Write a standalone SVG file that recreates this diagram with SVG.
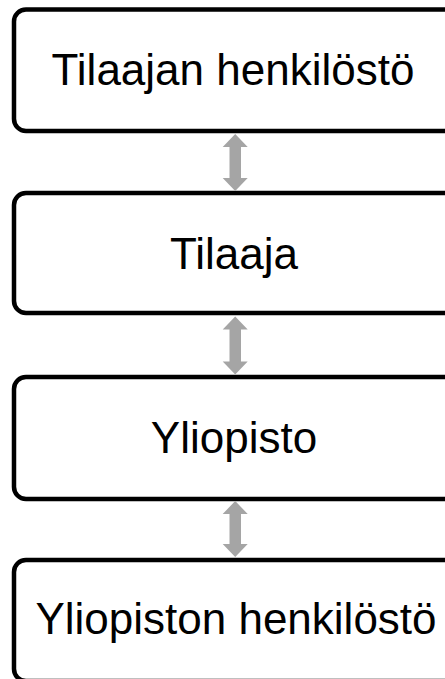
<svg xmlns="http://www.w3.org/2000/svg" width="445" height="679" viewBox="0 0 445 679">
<style>
.box{fill:#FFFFFF;stroke:#000000;stroke-width:4.5}
.lbl{font-family:"Liberation Sans",Arial,sans-serif;font-size:44px;fill:#000000;text-anchor:middle}
.arr{fill:#A5A5A5}
</style>
<rect width="445" height="679" fill="#FFFFFF"/>
<g id="node-tilaajan-henkilosto">
<rect class="box" x="14" y="9.5" width="443" height="121.5" rx="12"/>
<text class="lbl" x="233" y="85">Tilaajan henkilöstö</text>
</g>
<g id="node-tilaaja">
<rect class="box" x="14" y="193" width="443" height="120" rx="12"/>
<text class="lbl" x="234" y="268.5">Tilaaja</text>
</g>
<g id="node-yliopisto">
<rect class="box" x="14" y="377" width="443" height="122" rx="12"/>
<text class="lbl" x="234" y="453">Yliopisto</text>
</g>
<g id="node-yliopiston-henkilosto">
<rect class="box" x="14" y="560" width="443" height="121" rx="12"/>
<text class="lbl" x="236" y="633.5">Yliopiston henkilöstö</text>
</g>
<g id="connectors">
<path class="arr" d="M235.2,134 L247.7,147 L241,147 L241,178 L247.7,178 L235.2,191 L222.7,178 L229.5,178 L229.5,147 L222.7,147 Z"/>
<path class="arr" d="M235.2,316.5 L247.7,329.5 L241,329.5 L241,361.5 L247.7,361.5 L235.2,374.5 L222.7,361.5 L229.5,361.5 L229.5,329.5 L222.7,329.5 Z"/>
<path class="arr" d="M235.2,501 L247.7,514 L241,514 L241,544 L247.7,544 L235.2,557 L222.7,544 L229.5,544 L229.5,514 L222.7,514 Z"/>
</g>
</svg>
